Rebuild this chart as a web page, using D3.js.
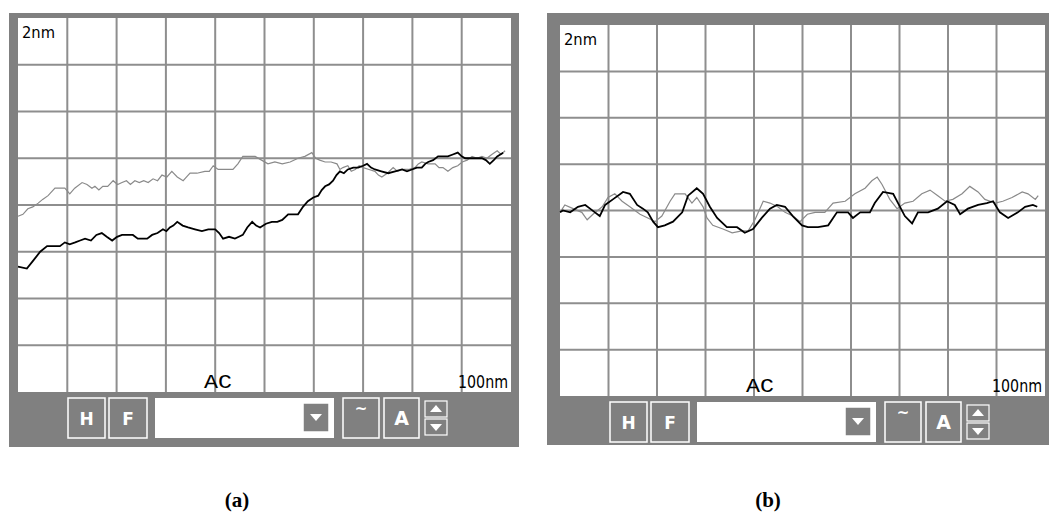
<!DOCTYPE html>
<html>
<head>
<meta charset="utf-8">
<script src="https://cdn.jsdelivr.net/npm/d3@7"></script>
<style>
  body { margin: 0; background: #fff; }
</style>
</head>
<body>
<div id="canvas"></div>
<script>
"use strict"

/* Drawing size */
let svgWidth = 1049;
let svgHeight = 512;

/* Profile data, x in nm (0-100), y in nm (-1..1, 0 = middle grid line) */
let grayA = [
    [0, -0.06], [1, -0.05], [2, -0.02], [3, -0.01], [4.1, 0.01], [5, 0.03], [6.1, 0.05],
    [7.5, 0.09], [8.5, 0.09], [9.5, 0.09], [10.5, 0.06], [11.5, 0.09], [13, 0.12], [14, 0.11],
    [15, 0.09], [15.6, 0.10], [16.4, 0.08], [17.2, 0.10], [18.2, 0.10], [19.3, 0.13], [20.2, 0.11],
    [21.1, 0.12], [22, 0.13], [22.8, 0.11], [23.7, 0.13], [24.6, 0.12], [25.5, 0.13], [26.4, 0.12],
    [27.4, 0.14], [28.3, 0.13], [29.2, 0.16], [30.2, 0.15], [31.2, 0.18], [32.3, 0.15], [33.5, 0.13],
    [34.2, 0.15], [34.9, 0.17], [36.3, 0.17], [37.9, 0.18], [38.8, 0.18], [39.6, 0.21], [40.6, 0.19],
    [42, 0.19], [43.6, 0.19], [44.6, 0.22], [45.6, 0.26], [46.8, 0.26], [48.1, 0.26], [49.4, 0.24],
    [50.7, 0.22], [52.1, 0.23], [53.6, 0.22], [55.2, 0.23], [56.8, 0.25], [58.2, 0.26], [59.6, 0.28],
    [60.4, 0.25], [61.2, 0.24], [62.3, 0.23], [63.5, 0.23], [64.7, 0.22], [65.3, 0.19], [65.9, 0.20],
    [66.9, 0.21], [67.6, 0.18], [68.4, 0.19], [69.2, 0.21], [70, 0.20], [71.2, 0.19], [72.4, 0.18],
    [73.1, 0.16], [73.8, 0.15], [74.9, 0.17], [76.1, 0.20], [77, 0.18], [77.9, 0.19], [79.2, 0.19],
    [80.5, 0.20], [81.2, 0.22], [81.9, 0.23], [83.2, 0.22], [84.6, 0.22], [85.4, 0.20], [86.2, 0.20],
    [87.2, 0.18], [88.2, 0.20], [89.2, 0.21], [90.1, 0.23], [91.1, 0.24], [92.1, 0.26], [93.1, 0.25],
    [94.1, 0.26], [95.1, 0.25], [96.1, 0.27], [97.2, 0.29], [98, 0.27], [98.8, 0.29]
];

let blackA = [
    [0, -0.33], [1.8, -0.34], [3, -0.30], [4.5, -0.25], [5.9, -0.22], [7.2, -0.22], [8.5, -0.22],
    [9.5, -0.20], [10.5, -0.21], [11.6, -0.20], [12.6, -0.19], [13.6, -0.18], [14.8, -0.19],
    [15.9, -0.16], [17, -0.15], [18, -0.17], [19.1, -0.19], [20.1, -0.17], [21.1, -0.16],
    [22.2, -0.16], [23.3, -0.16], [24.3, -0.18], [25.2, -0.18], [26.2, -0.18], [27.2, -0.16],
    [28.3, -0.15], [29.4, -0.13], [30.1, -0.14], [30.8, -0.12], [31.5, -0.11], [32.3, -0.09],
    [33.4, -0.11], [34.5, -0.12], [35.9, -0.13], [37.3, -0.14], [38.6, -0.13], [40, -0.13],
    [40.8, -0.15], [41.6, -0.18], [42.8, -0.17], [44, -0.18], [44.8, -0.17], [45.6, -0.16],
    [46.5, -0.12], [47.5, -0.09], [48.3, -0.11], [49.1, -0.12], [50.3, -0.10], [51.5, -0.09],
    [52.6, -0.09], [53.6, -0.08], [54.8, -0.05], [55.8, -0.05], [56.8, -0.05], [57.8, -0.01],
    [58.8, 0.02], [59.9, 0.04], [60.9, 0.05], [61.6, 0.08], [62.3, 0.10], [63.1, 0.11],
    [63.9, 0.13], [64.6, 0.16], [65.3, 0.18], [66.1, 0.17], [66.9, 0.19], [68, 0.20], [69, 0.20],
    [70, 0.21], [70.8, 0.22], [71.6, 0.20], [72.4, 0.19], [73.7, 0.18], [75.1, 0.17], [76.5, 0.18],
    [77.9, 0.19], [78.9, 0.18], [79.9, 0.19], [80.9, 0.20], [81.9, 0.20], [82.6, 0.22],
    [83.2, 0.23], [84.2, 0.24], [85.2, 0.26], [86.2, 0.26], [87.2, 0.26], [88.2, 0.27],
    [89.2, 0.28], [90, 0.26], [90.7, 0.25], [92.4, 0.25], [94.1, 0.25], [94.9, 0.24],
    [95.7, 0.22], [96.5, 0.24], [97.2, 0.26], [98.4, 0.28]
];

let grayB = [
    [0, -0.01], [1, 0.03], [2.7, 0.01], [4.5, -0.01], [5.6, -0.05], [6.8, -0.02], [8.7, 0.02],
    [9.9, 0.07], [11.3, 0.09], [12.8, 0.05], [14.4, 0.02], [16.5, -0.02], [18.1, -0.04],
    [19.6, -0.06], [21, -0.03], [22.7, 0.05], [23.7, 0.09], [25.8, 0.09], [27.2, 0.04],
    [28.2, 0.07], [29.5, 0.02], [30.3, -0.04], [31.5, -0.08], [33.6, -0.10], [35.5, -0.12],
    [37.5, -0.11], [38.8, -0.11], [40.2, -0.05], [41.9, 0.05], [43.3, 0.04], [44.9, 0.02],
    [46.4, -0.01], [48, -0.03], [49.5, -0.06], [51, -0.02], [52.6, -0.01], [54.6, -0.01],
    [56.3, 0.04], [58.8, 0.05], [60.8, 0.09], [62.9, 0.12], [64.3, 0.16], [65.4, 0.18],
    [66.4, 0.14], [68, 0.06], [69.5, 0.01], [71.1, 0.04], [72.8, 0.05], [74.6, 0.09],
    [76.3, 0.11], [77.9, 0.08], [79.4, 0.05], [81, 0.06], [82.9, 0.09], [84.5, 0.13],
    [86.2, 0.10], [87.6, 0.06], [89.7, 0.04], [91.3, 0.05], [93.2, 0.07], [95.3, 0.10],
    [96.5, 0.09], [98, 0.06], [98.6, 0.08]
];

let blackB = [
    [0, -0.01], [0.6, 0.00], [2.1, -0.01], [3.7, 0.02], [5.2, 0.03], [6.2, 0.01], [7.2, -0.01],
    [8.2, -0.03], [9.3, 0.03], [10.9, 0.06], [13, 0.10], [14.4, 0.09], [15.9, 0.03], [17.1, 0.01],
    [18.1, -0.01], [19.2, -0.06], [20.2, -0.09], [21.6, -0.08], [23.3, -0.06], [25.2, -0.01],
    [26.4, 0.08], [28.2, 0.12], [29.5, 0.09], [30.9, 0.02], [32.4, -0.04], [34.4, -0.09],
    [36.5, -0.09], [38.1, -0.12], [39.8, -0.10], [41.6, -0.04], [43.3, 0.01], [44.7, 0.03],
    [46.4, 0.02], [48, -0.03], [49.9, -0.08], [51.1, -0.09], [53.2, -0.09], [55.3, -0.08],
    [57.1, -0.01], [59.4, -0.01], [60.4, -0.04], [61.9, -0.01], [63.9, -0.01], [64.9, 0.04],
    [66.6, 0.10], [68.7, 0.09], [69.7, 0.04], [71.1, -0.03], [72.6, -0.07], [73.8, -0.01],
    [75.9, -0.01], [77.9, 0.01], [79.8, 0.05], [81.4, 0.03], [82.5, -0.02], [84.1, 0.01],
    [86.2, 0.03], [88, 0.04], [89.3, 0.05], [90.7, -0.01], [92.4, -0.04], [94.4, -0.01],
    [95.9, 0.02], [97.5, 0.03], [98.4, 0.02]
];

/* grid divisions */
let xGrid = [10, 20, 30, 40, 50, 60, 70, 80, 90];
let yGrid = [-0.75, -0.5, -0.25, 0, 0.25, 0.5, 0.75];

/* screen texts */
let yRangeLabel = "2nm";
let xRangeLabel = "100nm";
let modeLabel = "AC";

/* panel layout */
let panels = [
    { frame: [9, 13, 519, 447], plot: [18, 18, 511, 392], gray: grayA, black: blackA,
      caption: "(a)", captionX: 237 },
    { frame: [547, 13, 1049, 445], plot: [560, 25, 1045, 396], gray: grayB, black: blackB,
      caption: "(b)", captionX: 768 }
];

let frameGray = "#808080";

let svg = d3.select("#canvas")
    .append("svg")
    .attr("width", svgWidth)
    .attr("height", svgHeight);

panels.forEach(function(p) {
    let g = svg.append("g");
    let [fx0, fy0, fx1, fy1] = p.frame;
    let [px0, py0, px1, py1] = p.plot;

    /* outer gray frame */
    g.append("rect")
        .attr("x", fx0).attr("y", fy0)
        .attr("width", fx1 - fx0).attr("height", fy1 - fy0)
        .attr("fill", frameGray);

    /* white plot area */
    g.append("rect")
        .attr("x", px0).attr("y", py0)
        .attr("width", px1 - px0).attr("height", py1 - py0)
        .attr("fill", "#fff");

    let xScale = d3.scaleLinear().domain([0, 100]).range([px0, px1]);
    let yScale = d3.scaleLinear().domain([-1, 1]).range([py1, py0]);

    /* grid */
    g.selectAll(".vgrid")
        .data(xGrid)
        .join("line")
        .attr("x1", d => xScale(d)).attr("x2", d => xScale(d))
        .attr("y1", py0).attr("y2", py1)
        .attr("stroke", "#8e8e8e")
        .attr("stroke-width", 2);

    g.selectAll(".hgrid")
        .data(yGrid)
        .join("line")
        .attr("x1", px0).attr("x2", px1)
        .attr("y1", d => yScale(d)).attr("y2", d => yScale(d))
        .attr("stroke", "#8e8e8e")
        .attr("stroke-width", 2);

    /* labels inside plot */
    g.append("text")
        .attr("x", px0 + 4)
        .attr("y", py0 + 20)
        .attr("font-family", "'Liberation Sans Narrow', 'DejaVu Sans Condensed', sans-serif")
        .attr("font-size", 16)
        .attr("textLength", 33)
        .attr("lengthAdjust", "spacingAndGlyphs")
        .text(yRangeLabel);

    g.append("text")
        .attr("x", px1 - 3)
        .attr("y", py1 - 4)
        .attr("text-anchor", "end")
        .attr("font-family", "'Liberation Sans Narrow', 'DejaVu Sans Condensed', sans-serif")
        .attr("font-size", 18)
        .attr("textLength", 50)
        .attr("lengthAdjust", "spacingAndGlyphs")
        .text(xRangeLabel);

    g.append("text")
        .attr("x", px0 + 186)
        .attr("y", py1 - 4)
        .attr("font-family", "'Liberation Mono', 'Courier New', monospace")
        .attr("font-size", 21)
        .attr("textLength", 28)
        .attr("lengthAdjust", "spacingAndGlyphs")
        .text(modeLabel);

    /* profile lines */
    let line = d3.line()
        .x(d => xScale(d[0]))
        .y(d => yScale(d[1]));

    g.append("path")
        .datum(p.gray)
        .attr("d", line)
        .attr("fill", "none")
        .attr("stroke", "#8a8a8a")
        .attr("stroke-width", 1.2);

    g.append("path")
        .datum(p.black)
        .attr("d", line)
        .attr("fill", "none")
        .attr("stroke", "#000")
        .attr("stroke-width", 1.8);

    /* toolbar under the plot */
    let ty = py1 + 6;
    let th = 40;

    function button(x0, x1, label, size) {
        g.append("rect")
            .attr("x", px0 + x0).attr("y", ty)
            .attr("width", x1 - x0).attr("height", th)
            .attr("fill", frameGray)
            .attr("stroke", "#fff")
            .attr("stroke-width", 1.5);
        g.append("text")
            .attr("x", px0 + (x0 + x1) / 2)
            .attr("y", ty + (label === "~" ? 16 : 27))
            .attr("text-anchor", "middle")
            .attr("font-family", "'DejaVu Sans', sans-serif")
            .attr("font-weight", "bold")
            .attr("font-size", size)
            .attr("fill", "#fff")
            .text(label);
    }

    button(50, 87, "H", 17);
    button(91, 129, "F", 17);

    /* long white input with dropdown */
    g.append("rect")
        .attr("x", px0 + 137).attr("y", ty)
        .attr("width", 179).attr("height", th)
        .attr("fill", "#fff");
    g.append("rect")
        .attr("x", px0 + 285).attr("y", ty + 5)
        .attr("width", 26).attr("height", 29)
        .attr("fill", frameGray)
        .attr("stroke", "#fff")
        .attr("stroke-width", 1.5);
    g.append("path")
        .attr("d", `M${px0 + 292},${ty + 16} L${px0 + 304},${ty + 16} L${px0 + 298},${ty + 23} Z`)
        .attr("fill", "#fff");

    button(325, 361, "~", 15);
    button(366, 401, "A", 19);

    /* spin buttons */
    [[ty + 3, "up"], [ty + 21, "down"]].forEach(function(s) {
        let y = s[0];
        g.append("rect")
            .attr("x", px0 + 407).attr("y", y)
            .attr("width", 22).attr("height", 16)
            .attr("fill", frameGray)
            .attr("stroke", "#fff")
            .attr("stroke-width", 1.2);
        let cx = px0 + 418;
        let tri = s[1] === "up"
            ? `M${cx - 6},${y + 11} L${cx + 6},${y + 11} L${cx},${y + 4} Z`
            : `M${cx - 6},${y + 5} L${cx + 6},${y + 5} L${cx},${y + 12} Z`;
        g.append("path").attr("d", tri).attr("fill", "#fff");
    });

    /* caption */
    svg.append("text")
        .attr("x", p.captionX)
        .attr("y", 507)
        .attr("text-anchor", "middle")
        .attr("font-family", "'Liberation Serif', 'Times New Roman', serif")
        .attr("font-weight", "bold")
        .attr("font-size", 21)
        .text(p.caption);
});
</script>
</body>
</html>
